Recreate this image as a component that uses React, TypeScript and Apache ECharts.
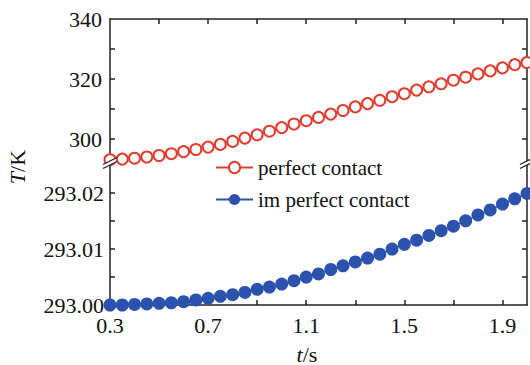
import React, { useEffect, useRef } from "react";
import * as echarts from "echarts";

const times = [
  0.3, 0.35, 0.4, 0.45, 0.5, 0.55, 0.6, 0.65, 0.7, 0.75, 0.8, 0.85, 0.9, 0.95,
  1.0, 1.05, 1.1, 1.15, 1.2, 1.25, 1.3, 1.35, 1.4, 1.45, 1.5, 1.55, 1.6, 1.65,
  1.7, 1.75, 1.8, 1.85, 1.9, 1.95, 2.0,
];

const perfectContact = [
  293.1, 293.3, 293.6, 294.0, 294.5, 295.1, 295.8, 296.5, 297.3, 298.2, 299.2,
  300.3, 301.4, 302.6, 303.8, 305.0, 306.1, 307.2, 308.3, 309.5, 310.7, 311.8,
  312.9, 314.1, 315.1, 316.3, 317.4, 318.4, 319.6, 320.6, 321.7, 322.7, 323.7,
  324.8, 325.5,
];

const imperfectContact = [
  293.0, 293.0, 293.0001, 293.0002, 293.0003, 293.0004, 293.0006, 293.0009,
  293.0012, 293.00155, 293.00185, 293.00225, 293.0028, 293.0032, 293.00375,
  293.00435, 293.005, 293.00555, 293.00635, 293.007, 293.0077, 293.0084,
  293.0091, 293.01, 293.01085, 293.0116, 293.01245, 293.0133, 293.0141,
  293.01505, 293.0161, 293.017, 293.01805, 293.019, 293.01995,
];

const xTickValues = [0.5, 0.7, 0.9, 1.1, 1.3, 1.5, 1.7, 1.9];
const xLabelValues = [0.3, 0.7, 1.1, 1.5, 1.9];
const topTickValues = [300, 310, 320, 330];
const topLabelValues = [300, 320, 340];
const bottomTickValues = [293.005, 293.01, 293.015, 293.02];
const bottomLabelValues = [293.0, 293.01, 293.02];

const FONT = "'Liberation Serif', 'Times New Roman', serif";
const AXIS = "#222";
const RED = "#e43b2f";
const BLUE = "#2b53ad";

export default function App() {
  const ref = useRef<HTMLDivElement>(null);

  useEffect(() => {
    if (!ref.current) return;
    document.body.style.margin = "0";
    const chart = echarts.init(ref.current, undefined, { renderer: "svg" });

    const L = 110;
    const R = 3;
    const gTop = 19;
    const gMid = 163;
    const gBot = 305;
    const axisLine = { show: true, lineStyle: { color: AXIS, width: 1.5 } };
    const tick = { show: true, inside: true, length: 5, lineStyle: { color: AXIS, width: 1.5 } };
    const label = { color: "#111", fontFamily: FONT, fontSize: 22 };

    const perfect = times.map((t, i) => [t, perfectContact[i]]);
    const imperfect = times.map((t, i) => [t, imperfectContact[i]]);

    const breakMark = (x: number, y: number) => [
      {
        type: "polygon",
        z: 100,
        shape: { points: [[x - 6, y + 5], [x + 6, y - 1], [x + 6, y - 5], [x - 6, y + 1]] },
        style: { fill: "#fff" },
      },
      {
        type: "line",
        z: 101,
        shape: { x1: x - 7, y1: y + 1.5, x2: x + 7, y2: y - 5.5 },
        style: { stroke: AXIS, lineWidth: 1.3 },
      },
      {
        type: "line",
        z: 101,
        shape: { x1: x - 7, y1: y + 5.5, x2: x + 7, y2: y - 1.5 },
        style: { stroke: AXIS, lineWidth: 1.3 },
      },
    ];

    chart.setOption({
      animation: false,
      backgroundColor: "#fff",
      grid: [
        { left: L, right: R, top: gTop, height: gMid - gTop },
        { left: L, right: R, top: gMid, height: gBot - gMid },
      ],
      xAxis: [
        {
          type: "value",
          gridIndex: 0,
          position: "top",
          min: 0.3,
          max: 2.0,
          axisLine,
          axisTick: { ...tick, customValues: xTickValues },
          axisLabel: { show: false },
          splitLine: { show: false },
        },
        {
          type: "value",
          gridIndex: 1,
          position: "bottom",
          min: 0.3,
          max: 2.0,
          axisLine,
          axisTick: { ...tick, customValues: xTickValues },
          axisLabel: {
            ...label,
            margin: 9,
            customValues: xLabelValues,
            formatter: (v: number) => v.toFixed(1),
          },
          splitLine: { show: false },
        },
      ],
      yAxis: [
        {
          type: "value",
          gridIndex: 0,
          position: "left",
          min: 292,
          max: 340,
          axisLine,
          axisTick: { ...tick, customValues: topTickValues },
          axisLabel: {
            ...label,
            margin: 8,
            customValues: topLabelValues,
            formatter: (v: number) => v.toFixed(0),
          },
          splitLine: { show: false },
        },
        {
          type: "value",
          gridIndex: 0,
          position: "right",
          min: 292,
          max: 340,
          axisLine,
          axisTick: { ...tick, customValues: topTickValues },
          axisLabel: { show: false },
          splitLine: { show: false },
        },
        {
          type: "value",
          gridIndex: 1,
          position: "left",
          min: 293.0,
          max: 293.0254,
          axisLine,
          axisTick: { ...tick, customValues: bottomTickValues },
          axisLabel: {
            ...label,
            margin: 6,
            customValues: bottomLabelValues,
            formatter: (v: number) => v.toFixed(2),
          },
          splitLine: { show: false },
        },
        {
          type: "value",
          gridIndex: 1,
          position: "right",
          min: 293.0,
          max: 293.0254,
          axisLine,
          axisTick: { ...tick, customValues: bottomTickValues },
          axisLabel: { show: false },
          splitLine: { show: false },
        },
      ],
      legend: {
        orient: "vertical",
        left: 215,
        top: 157,
        padding: 0,
        itemWidth: 37,
        itemHeight: 14,
        itemGap: 11,
        textStyle: { fontFamily: FONT, fontSize: 21, color: "#111", lineHeight: 20 },
        data: ["perfect contact", "im perfect contact"],
      },
      series: [
        {
          name: "perfect contact",
          type: "line",
          xAxisIndex: 0,
          yAxisIndex: 0,
          data: perfect,
          symbol: "emptyCircle",
          symbolSize: 11,
          lineStyle: { color: RED, width: 1.3 },
          itemStyle: { color: RED, borderColor: RED, borderWidth: 1.5 },
          clip: false,
          z: 3,
        },
        {
          name: "im perfect contact",
          type: "line",
          xAxisIndex: 1,
          yAxisIndex: 2,
          data: imperfect,
          symbol: "circle",
          symbolSize: 13,
          lineStyle: { color: BLUE, width: 1.3 },
          itemStyle: { color: BLUE },
          clip: false,
          z: 3,
        },
      ],
      graphic: [
        ...breakMark(L, gMid),
        ...breakMark(530 - R, gMid),
        {
          type: "text",
          x: 17,
          y: 167,
          rotation: Math.PI / 2,
          style: {
            text: "{i|T}/K",
            font: `22px ${FONT}`,
            fill: "#111",
            align: "center",
            verticalAlign: "middle",
            rich: { i: { fontStyle: "italic", fontFamily: FONT, fontSize: 22, fill: "#111" } },
          },
        },
        {
          type: "text",
          x: 307,
          y: 354,
          style: {
            text: "{i|t}/s",
            font: `22px ${FONT}`,
            fill: "#111",
            align: "center",
            verticalAlign: "middle",
            rich: { i: { fontStyle: "italic", fontFamily: FONT, fontSize: 22, fill: "#111" } },
          },
        },
      ],
    });

    return () => chart.dispose();
  }, []);

  return (
    <div
      ref={ref}
      style={{ width: 530, height: 365, position: "fixed", left: 0, top: 0 }}
    />
  );
}
